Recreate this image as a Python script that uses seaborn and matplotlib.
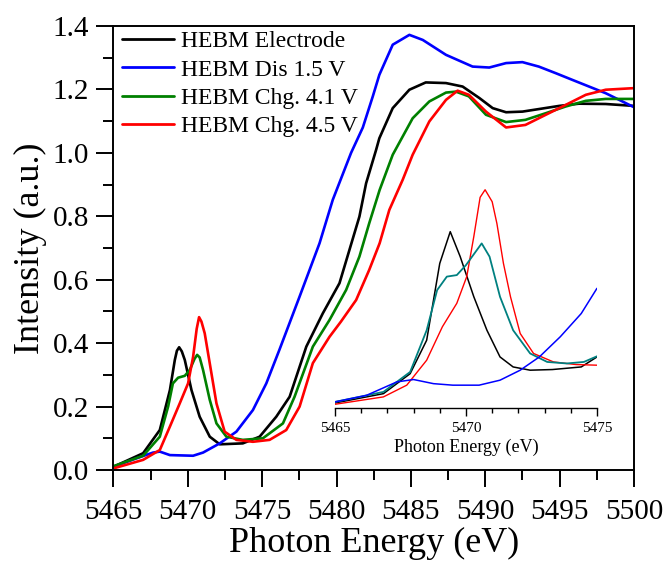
import matplotlib
matplotlib.use("Agg")
import matplotlib.pyplot as plt
from matplotlib.ticker import MultipleLocator, FormatStrFormatter
import seaborn as sns
import pandas as pd

# ---------------- main spectra ----------------
electrode_e = [5465, 5467.0, 5468.12, 5468.8, 5469.13, 5469.27, 5469.42, 5469.6, 5469.8, 5470.25,
               5470.8, 5471.48, 5472.15, 5473.7, 5474.83, 5475.95, 5476.85, 5477.97, 5479.08,
               5480.2, 5480.87, 5481.54, 5481.99, 5482.66, 5482.88, 5483.78, 5484.9, 5486.0,
               5487.36, 5488.48, 5489.6, 5490.5, 5491.4, 5492.5, 5493.6, 5494.97, 5496.3,
               5498.1, 5500]
electrode_i = [0.010, 0.053, 0.126, 0.252, 0.347, 0.376, 0.387, 0.374, 0.347, 0.252,
               0.168, 0.105, 0.081, 0.084, 0.105, 0.168, 0.231, 0.389, 0.494,
               0.589, 0.694, 0.799, 0.904, 1.009, 1.046, 1.141, 1.199, 1.222,
               1.220, 1.209, 1.173, 1.141, 1.128, 1.130, 1.138, 1.148, 1.155,
               1.154, 1.148]

dis_e = [5465, 5466.56, 5467.67, 5468.12, 5468.8, 5470.36, 5471.03, 5472.15, 5473.27, 5474.38,
         5475.28, 5476.17, 5477.52, 5478.86, 5479.75, 5480.98, 5481.77, 5482.44, 5482.88,
         5483.78, 5484.9, 5485.8, 5487.36, 5489.15, 5490.27, 5491.4, 5492.5, 5493.6,
         5494.75, 5495.86, 5496.98, 5498.1, 5500]
dis_i = [0.010, 0.037, 0.055, 0.058, 0.047, 0.045, 0.055, 0.084, 0.121, 0.189,
         0.273, 0.380, 0.547, 0.715, 0.852, 1.000, 1.080, 1.178, 1.246,
         1.341, 1.372, 1.356, 1.309, 1.272, 1.269, 1.283, 1.286, 1.272,
         1.251, 1.230, 1.209, 1.188, 1.144]

chg41_e = [5465, 5467.0, 5468.12, 5468.68, 5469.0, 5469.35, 5469.8, 5470.13, 5470.45, 5470.63,
           5470.8, 5471.03, 5471.48, 5471.93, 5472.6, 5473.7, 5475.05, 5476.4, 5477.18, 5478.41,
           5479.53, 5480.65, 5481.54, 5482.2, 5482.9, 5483.78, 5485.12, 5486.24, 5487.36,
           5488.03, 5488.9, 5490.05, 5491.4, 5492.7, 5494.07, 5495.4, 5496.76, 5498.1, 5500]
chg41_i = [0.012, 0.045, 0.105, 0.200, 0.273, 0.291, 0.297, 0.315, 0.350, 0.363,
           0.355, 0.315, 0.221, 0.147, 0.105, 0.095, 0.100, 0.147, 0.231, 0.389,
           0.473, 0.568, 0.673, 0.778, 0.883, 0.994, 1.109, 1.162, 1.190,
           1.193, 1.178, 1.120, 1.097, 1.104, 1.125, 1.146, 1.164, 1.170, 1.170]

chg45_e = [5465, 5467.0, 5468.12, 5468.8, 5469.46, 5470.02, 5470.36, 5470.6, 5470.76, 5470.92,
           5471.14, 5471.48, 5471.93, 5472.48, 5473.27, 5474.38, 5475.5, 5476.62, 5477.52,
           5478.41, 5479.53, 5480.3, 5481.32, 5482.2, 5482.9, 5483.55, 5484.45, 5485.12,
           5486.24, 5487.36, 5488.14, 5488.9, 5490.05, 5491.4, 5492.7, 5494.07, 5495.4,
           5496.76, 5498.1, 5500]
chg45_i = [0.005, 0.032, 0.063, 0.137, 0.210, 0.273, 0.357, 0.445, 0.482, 0.468,
           0.431, 0.336, 0.210, 0.121, 0.095, 0.089, 0.095, 0.126, 0.200,
           0.337, 0.420, 0.468, 0.536, 0.631, 0.715, 0.820, 0.915, 0.994,
           1.099, 1.167, 1.196, 1.183, 1.130, 1.080, 1.088, 1.120, 1.151,
           1.183, 1.199, 1.204]

labels = ["HEBM Electrode", "HEBM Dis 1.5 V", "HEBM Chg. 4.1 V", "HEBM Chg. 4.5 V"]
colors = ["#000000", "#0000ff", "#008000", "#ff0000"]

# ---------------- inset (pre-edge) ----------------
in_black_e = [5465, 5466.85, 5467.87, 5468.5, 5469.0, 5469.4, 5469.78, 5470.3, 5470.8, 5471.3,
              5471.8, 5472.45, 5473.3, 5474.4, 5475]
in_black_i = [0.023, 0.066, 0.158, 0.312, 0.666, 0.812, 0.697, 0.512, 0.358, 0.235,
              0.189, 0.174, 0.177, 0.189, 0.235]
in_teal_e = [5465, 5466.85, 5467.87, 5468.5, 5468.9, 5469.27, 5469.65, 5470.0, 5470.6, 5470.9,
             5471.3, 5471.8, 5472.45, 5473.1, 5473.85, 5474.5, 5475]
in_teal_i = [0.028, 0.074, 0.166, 0.358, 0.543, 0.605, 0.612, 0.658, 0.758, 0.697,
             0.512, 0.358, 0.251, 0.212, 0.205, 0.212, 0.238]
in_red_e = [5465, 5466.85, 5467.74, 5468.5, 5469.1, 5469.65, 5470.03, 5470.3, 5470.54, 5470.73,
            5471.0, 5471.18, 5471.43, 5471.7, 5472.07, 5472.58, 5473.34, 5474.2, 5475]
in_red_i = [0.017, 0.051, 0.105, 0.220, 0.374, 0.482, 0.605, 0.790, 0.970, 1.005,
            0.950, 0.850, 0.666, 0.512, 0.343, 0.251, 0.212, 0.200, 0.197]
in_blue_e = [5465, 5466.2, 5467.36, 5468.0, 5468.76, 5469.5, 5470.5, 5471.3, 5472.07, 5472.8,
             5473.6, 5474.4, 5475]
in_blue_i = [0.028, 0.058, 0.120, 0.131, 0.112, 0.105, 0.105, 0.128, 0.174, 0.235,
             0.328, 0.435, 0.551]

sns.set_style("ticks")
plt.rcParams["font.family"] = ["Liberation Serif", "DejaVu Serif"]
for key in ["text.color", "axes.labelcolor", "xtick.color", "ytick.color", "axes.edgecolor"]:
    plt.rcParams[key] = "black"
plt.rcParams["lines.solid_joinstyle"] = "round"
plt.rcParams["lines.solid_capstyle"] = "round"

fig = plt.figure(figsize=(6.67, 5.66), dpi=100)
ax = fig.add_axes([0.170, 0.1696, 0.7805, 0.7845])

main_series = [(electrode_e, electrode_i), (dis_e, dis_i), (chg41_e, chg41_i), (chg45_e, chg45_i)]
for (e, i), lab, c in zip(main_series, labels, colors):
    df = pd.DataFrame({"E": e, "I": i})
    sns.lineplot(data=df, x="E", y="I", ax=ax, color=c, lw=1.9, label=lab, sort=False,
                 estimator=None)

ax.set_xlim(5465, 5500)
ax.set_ylim(0, 1.4)
ax.xaxis.set_major_locator(MultipleLocator(5))
ax.xaxis.set_minor_locator(MultipleLocator(2.5))
ax.yaxis.set_major_locator(MultipleLocator(0.2))
ax.yaxis.set_minor_locator(MultipleLocator(0.1))
ax.yaxis.set_major_formatter(FormatStrFormatter("%.1f"))
ax.tick_params(axis="both", which="major", direction="out", length=12, width=1.4,
               labelsize=21)
ax.tick_params(axis="x", which="major", pad=9)
ax.tick_params(axis="y", which="major", pad=5.5)
ax.tick_params(axis="both", which="minor", direction="out", length=7, width=1.4)
for s in ax.spines.values():
    s.set_linewidth(1.4)
ax.set_xlabel("Photon Energy (eV)", fontsize=26, labelpad=1.5)
ax.set_ylabel("Intensity (a.u.)", fontsize=26, labelpad=4)

leg = ax.legend(loc="upper left", bbox_to_anchor=(0.008, 1.0), frameon=False, fontsize=17,
                handlelength=2.2, handletextpad=0.3, labelspacing=0.29, borderpad=0.1,
                borderaxespad=0.1)
for line in leg.get_lines():
    line.set_linewidth(2.0)

# ---------------- inset ----------------
ins = fig.add_axes([0.5022, 0.2792, 0.3928, 0.4028])
ins.set_facecolor("none")
inset_series = [(in_black_e, in_black_i, "#000000", 1.1),
                (in_red_e, in_red_i, "#ff0000", 1.0),
                (in_teal_e, in_teal_i, "#008080", 1.3),
                (in_blue_e, in_blue_i, "#0000ff", 1.1)]
for e, i, c, w in inset_series:
    df = pd.DataFrame({"E": e, "I": i})
    sns.lineplot(data=df, x="E", y="I", ax=ins, color=c, lw=w, sort=False, estimator=None)
ins.set_xlim(5465, 5475)
ins.set_ylim(0, 1.05)
for side in ["left", "top", "right"]:
    ins.spines[side].set_visible(False)
ins.spines["bottom"].set_linewidth(1.0)
ins.set_yticks([])
ins.xaxis.set_major_locator(MultipleLocator(5))
ins.xaxis.set_minor_locator(MultipleLocator(1))
ins.tick_params(axis="x", which="major", direction="out", length=6, width=1.0, labelsize=11, pad=4)
ins.tick_params(axis="x", which="minor", direction="out", length=3.5, width=1.0)
ins.set_xlabel("Photon Energy (eV)", fontsize=13, labelpad=3)
ins.set_ylabel("")

fig.savefig("out.png", dpi=100)
